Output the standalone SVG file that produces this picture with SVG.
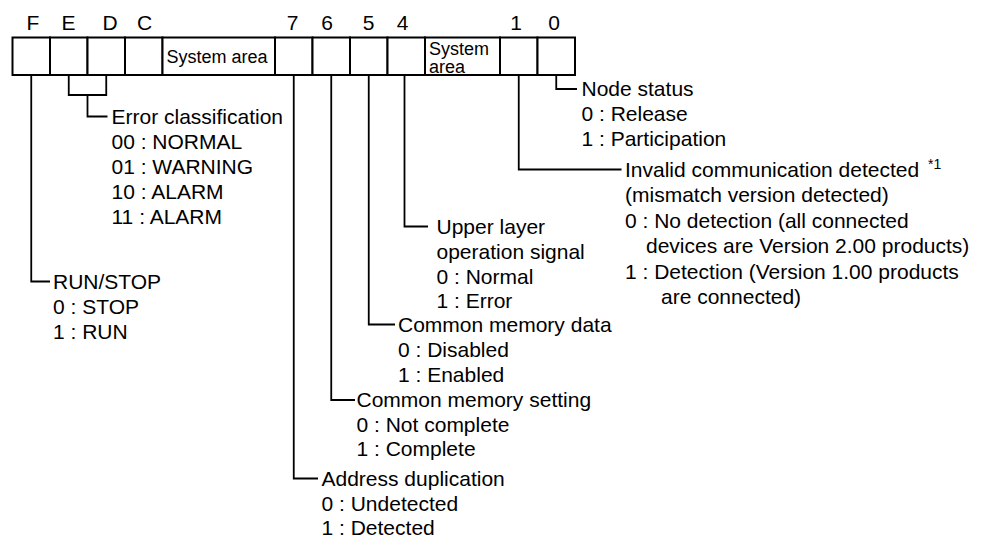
<svg xmlns="http://www.w3.org/2000/svg" width="995" height="538" viewBox="0 0 995 538">
<style>
text{font-family:"Liberation Sans",Arial,sans-serif;fill:#000}
.t{font-size:21px}
.r{font-size:18px}
.bl{font-size:21px;text-anchor:middle}
.cell{fill:#fff;stroke:#000;stroke-width:2}
.con{fill:none;stroke:#000;stroke-width:1.8}
.sup{font-size:14px}
</style>
<rect width="995" height="538" fill="#fff"/>
<g id="register">
<g id="bit-labels">
<text class="bl" x="33" y="30">F</text>
<text class="bl" x="68.5" y="30">E</text>
<text class="bl" x="110" y="30">D</text>
<text class="bl" x="144.5" y="30">C</text>
<text class="bl" x="292.5" y="30">7</text>
<text class="bl" x="327" y="30">6</text>
<text class="bl" x="368.5" y="30">5</text>
<text class="bl" x="402.5" y="30">4</text>
<text class="bl" x="516" y="30">1</text>
<text class="bl" x="554" y="30">0</text>
</g>
<rect class="cell" x="12.5" y="37.5" width="37.5" height="37.5"/>
<rect class="cell" x="50" y="37.5" width="37.5" height="37.5"/>
<rect class="cell" x="87.5" y="37.5" width="37.5" height="37.5"/>
<rect class="cell" x="125" y="37.5" width="37.5" height="37.5"/>
<rect class="cell" x="162.5" y="37.5" width="112.5" height="37.5"/>
<rect class="cell" x="275" y="37.5" width="37.5" height="37.5"/>
<rect class="cell" x="312.5" y="37.5" width="37.5" height="37.5"/>
<rect class="cell" x="350" y="37.5" width="37.5" height="37.5"/>
<rect class="cell" x="387.5" y="37.5" width="37.5" height="37.5"/>
<rect class="cell" x="425" y="37.5" width="75" height="37.5"/>
<rect class="cell" x="500" y="37.5" width="37.5" height="37.5"/>
<rect class="cell" x="537.5" y="37.5" width="37.5" height="37.5"/>
<text class="r" x="166.5" y="62.5">System area</text>
<text class="r"><tspan x="429" y="55">System</tspan><tspan x="429" y="72.5">area</tspan></text>
</g>
<g id="connectors">
<path class="con" d="M31.25,75 V281.5 H50"/>
<path class="con" d="M68.75,75 V95 H106.25 V75 M87.5,95 V116.5 H107.5"/>
<path class="con" d="M293.75,75 V478.5 H318"/>
<path class="con" d="M331.25,75 V400 H355"/>
<path class="con" d="M368.75,75 V324.5 H395"/>
<path class="con" d="M404.5,75 V226.5 H428"/>
<path class="con" d="M518.75,75 V169.5 H621.5"/>
<path class="con" d="M556.25,75 V89 H577"/>
</g>
<g id="node-error-classification">
<text class="t" x="111.5" y="124">Error classification</text>
<text class="t" x="111.5" y="149">00 : NORMAL</text>
<text class="t" x="111.5" y="174">01 : WARNING</text>
<text class="t" x="111.5" y="199">10 : ALARM</text>
<text class="t" x="111.5" y="224">11 : ALARM</text>
</g>
<g id="node-run-stop">
<text class="t" x="53" y="289">RUN/STOP</text>
<text class="t" x="53" y="314">0 : STOP</text>
<text class="t" x="53" y="339">1 : RUN</text>
</g>
<g id="node-address-duplication">
<text class="t" x="321.5" y="486">Address duplication</text>
<text class="t" x="321.5" y="511">0 : Undetected</text>
<text class="t" x="321.5" y="535">1 : Detected</text>
</g>
<g id="node-common-memory-setting">
<text class="t" x="356.5" y="407">Common memory setting</text>
<text class="t" x="356.5" y="431.5">0 : Not complete</text>
<text class="t" x="356.5" y="456">1 : Complete</text>
</g>
<g id="node-common-memory-data">
<text class="t" x="398" y="331.5">Common memory data</text>
<text class="t" x="398" y="356.5">0 : Disabled</text>
<text class="t" x="398" y="381.5">1 : Enabled</text>
</g>
<g id="node-upper-layer">
<text class="t" x="436.5" y="234">Upper layer</text>
<text class="t" x="436.5" y="259">operation signal</text>
<text class="t" x="436.5" y="283.5">0 : Normal</text>
<text class="t" x="436.5" y="308">1 : Error</text>
</g>
<g id="node-invalid-communication">
<text class="t" x="625" y="176.5">Invalid communication detected</text>
<text class="sup" x="928" y="169">*1</text>
<text class="t" x="625" y="202">(mismatch version detected)</text>
<text class="t" x="625" y="227.5">0 : No detection (all connected</text>
<text class="t" x="646" y="253">devices are Version 2.00 products)</text>
<text class="t" x="625" y="278.5">1 : Detection (Version 1.00 products</text>
<text class="t" x="661" y="304">are connected)</text>
</g>
<g id="node-node-status">
<text class="t" x="581.5" y="96">Node status</text>
<text class="t" x="581.5" y="121">0 : Release</text>
<text class="t" x="581.5" y="146">1 : Participation</text>
</g>
</svg>
